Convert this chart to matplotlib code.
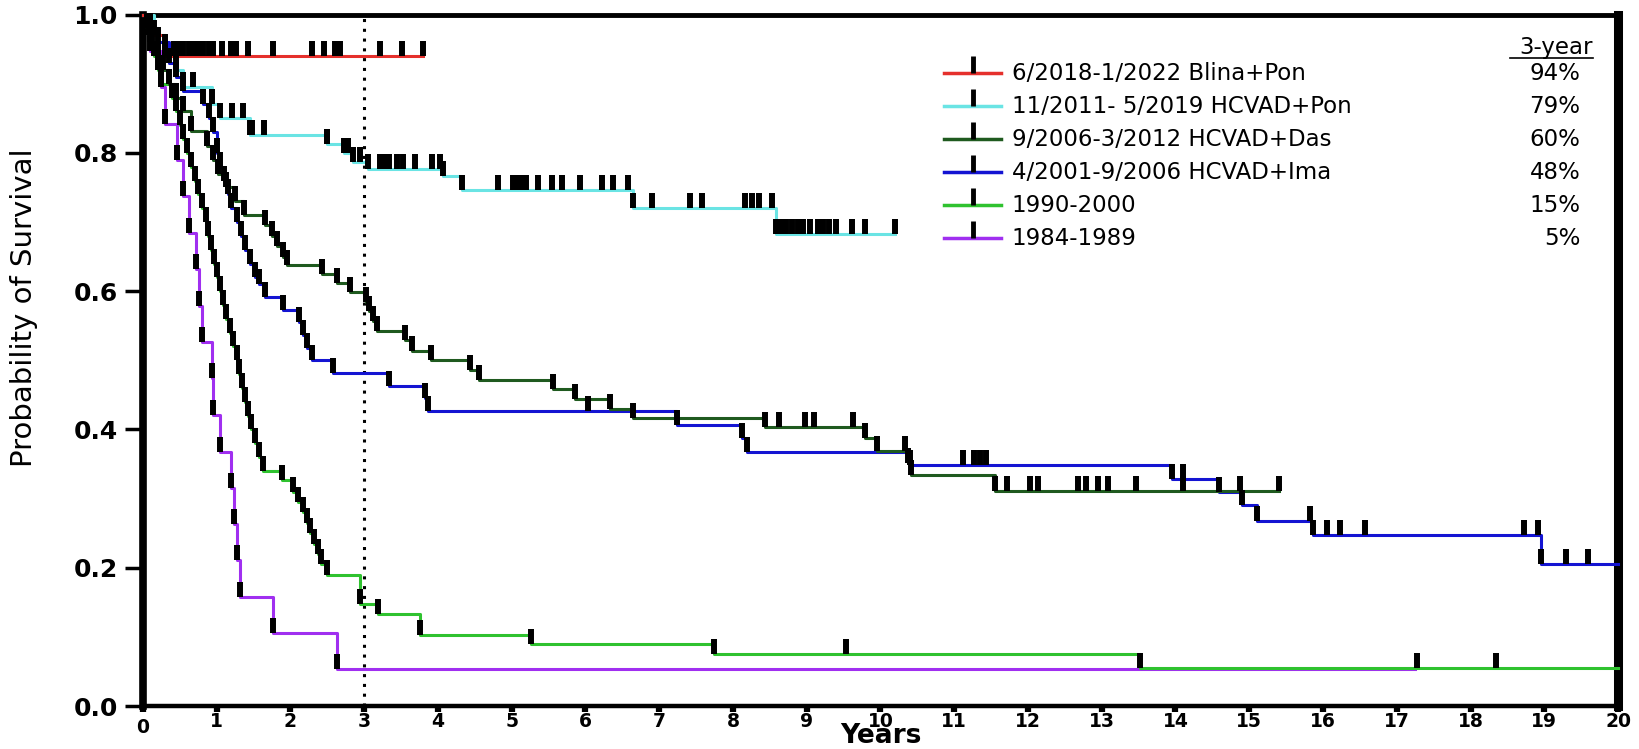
import numpy as np
import matplotlib.pyplot as plt
from matplotlib.transforms import ScaledTranslation

plt.rcParams['font.family'] = ['DejaVu Sans']

# ---- Kaplan-Meier data (event times / survival after each event, censored times) ----
red_t = [0.08, 0.30]
red_s = [0.97, 0.94]
red_c = [0.42, 0.48, 0.55, 0.62, 0.68, 0.75, 0.82, 0.89, 0.95, 1.07, 1.20, 1.26, 1.43,
         1.77, 2.29, 2.45, 2.60, 2.67, 3.22, 3.51, 3.80]
red_end = 3.80

cyan_t = [0.15, 0.30, 0.45, 0.55, 0.93, 1.05, 1.45, 2.50, 2.72, 2.85, 3.05, 4.07, 4.32, 6.65, 8.59]
cyan_s = [0.97, 0.95, 0.92, 0.895, 0.87, 0.85, 0.826, 0.813, 0.80, 0.787, 0.777, 0.766, 0.746, 0.72, 0.682]
cyan_c = [0.68, 1.21, 1.36, 1.48, 1.64, 2.50, 2.78, 2.95, 3.22, 3.27, 3.33, 3.44, 3.53, 3.69, 3.92,
          4.03, 4.82, 5.02, 5.08, 5.14, 5.20, 5.35, 5.55, 5.68, 5.93, 6.22, 6.38, 6.58, 6.90,
          7.42, 7.58, 8.17, 8.26, 8.35, 8.53, 8.65, 8.72, 8.80, 8.88, 8.95, 9.05, 9.15, 9.22,
          9.30, 9.40, 9.61, 9.79, 10.20]
cyan_end = 10.20

das_t = [0.05, 0.12, 0.20, 0.27, 0.35, 0.45, 0.55, 0.65, 0.87, 0.95, 1.02, 1.12, 1.25, 1.37,
         1.66, 1.75, 1.82, 1.90, 1.95, 2.43, 2.63, 2.81, 3.02, 3.07, 3.12, 3.17, 3.56, 3.65,
         3.90, 4.44, 4.55, 5.56, 5.86, 6.33, 6.65, 8.44, 9.79, 9.95, 10.38, 10.42, 11.55]
das_s = [0.98, 0.96, 0.94, 0.92, 0.90, 0.88, 0.86, 0.832, 0.81, 0.79, 0.77, 0.75, 0.73, 0.71,
         0.695, 0.68, 0.665, 0.65, 0.638, 0.625, 0.612, 0.599, 0.585, 0.571, 0.557, 0.543, 0.530,
         0.514, 0.50, 0.486, 0.472, 0.458, 0.444, 0.43, 0.416, 0.403, 0.388, 0.369, 0.351, 0.334, 0.311]
das_c = [8.63, 8.98, 9.10, 9.63, 10.33, 11.71, 12.03, 12.14, 12.68, 12.79, 12.95, 13.09,
         13.47, 14.10, 14.87, 15.40]
das_end = 15.40

ima_t = [0.10, 0.20, 0.35, 0.45, 0.55, 0.82, 0.90, 0.95, 1.00, 1.05, 1.10, 1.15, 1.20, 1.27,
         1.33, 1.38, 1.45, 1.52, 1.57, 1.65, 1.90, 2.12, 2.17, 2.22, 2.29, 2.58, 3.33, 3.83,
         3.87, 7.24, 8.12, 8.19, 10.40, 13.95, 14.59, 14.90, 15.10, 15.87, 18.96]
ima_s = [0.98, 0.96, 0.93, 0.91, 0.89, 0.87, 0.85, 0.83, 0.80, 0.78, 0.76, 0.74, 0.72, 0.70,
         0.68, 0.66, 0.64, 0.62, 0.61, 0.592, 0.573, 0.555, 0.536, 0.518, 0.50, 0.481, 0.463,
         0.445, 0.427, 0.407, 0.388, 0.368, 0.349, 0.329, 0.309, 0.291, 0.268, 0.247, 0.205]
ima_c = [6.04, 11.12, 11.27, 11.35, 11.43, 14.10, 15.82, 16.06, 16.23, 16.57, 18.72, 18.91,
         19.30, 19.59]
ima_end = 20.0

g90_t = [0.05, 0.10, 0.15, 0.20, 0.25, 0.40, 0.45, 0.50, 0.55, 0.60, 0.65, 0.70, 0.75, 0.80,
         0.85, 0.88, 0.92, 0.96, 1.00, 1.04, 1.08, 1.12, 1.18, 1.22, 1.27, 1.30, 1.35, 1.38,
         1.42, 1.47, 1.52, 1.57, 1.63, 1.89, 2.04, 2.10, 2.17, 2.22, 2.27, 2.32, 2.37, 2.42,
         2.50, 2.95, 3.19, 3.76, 5.26, 7.74, 13.52]
g90_s = [0.98, 0.96, 0.94, 0.92, 0.90, 0.88, 0.86, 0.84, 0.82, 0.80, 0.78, 0.76, 0.74, 0.72,
         0.70, 0.68, 0.66, 0.64, 0.62, 0.60, 0.58, 0.56, 0.54, 0.52, 0.50, 0.48, 0.46, 0.44,
         0.42, 0.40, 0.38, 0.36, 0.34, 0.327, 0.31, 0.295, 0.28, 0.265, 0.25, 0.235, 0.22, 0.205,
         0.19, 0.147, 0.133, 0.103, 0.089, 0.075, 0.055]
g90_c = [9.53, 17.27, 18.35]
g90_end = 20.0

p84_t = [0.10, 0.25, 0.30, 0.46, 0.55, 0.62, 0.72, 0.76, 0.80, 0.94, 0.95, 1.05, 1.19, 1.23,
         1.27, 1.32, 1.77, 2.63]
p84_s = [0.947, 0.895, 0.842, 0.789, 0.737, 0.684, 0.632, 0.579, 0.526, 0.474, 0.421, 0.368,
         0.316, 0.263, 0.211, 0.158, 0.105, 0.053]
p84_c = []
p84_end = 17.25

labels = ["6/2018-1/2022 Blina+Pon", "11/2011- 5/2019 HCVAD+Pon", "9/2006-3/2012 HCVAD+Das",
          "4/2001-9/2006 HCVAD+Ima", "1990-2000", "1984-1989"]
three_year = ["94%", "79%", "60%", "48%", "15%", "5%"]
colors = ["#e5302c", "#6ae4e4", "#1f5a1f", "#1414d2", "#2fc22f", "#a02ff0"]

curves = [(red_t, red_s, red_c, red_end),
          (cyan_t, cyan_s, cyan_c, cyan_end),
          (das_t, das_s, das_c, das_end),
          (ima_t, ima_s, ima_c, ima_end),
          (g90_t, g90_s, g90_c, g90_end),
          (p84_t, p84_s, p84_c, p84_end)]

fig = plt.figure(figsize=(16.39, 7.49), dpi=100)
ax = fig.add_axes([0.0872, 0.0574, 0.9, 0.9231])

# draw oldest first so the newer curves sit on top
for (t, s, c, end), col in reversed(list(zip(curves, colors))):
    t = np.array(t)
    s = np.array(s)
    x = np.concatenate([[0], t, [end]])
    y = np.concatenate([[1.0], s, [s[-1]]])
    ax.step(x, y, where="post", color=col, lw=2.2, zorder=3, clip_on=False)
    # tick marks at every event and censored time
    c = np.array(c)
    idx = np.searchsorted(t, c, side="right")
    c_s = np.where(idx == 0, 1.0, s[np.maximum(idx - 1, 0)])
    mx = np.concatenate([t, c])
    my = np.concatenate([s, c_s])
    ax.plot(mx, my, ls="none", marker=2, ms=11, mew=4.3, color="black",
            zorder=4, clip_on=False)

# 3-year reference line
ax.axvline(3, color="black", lw=2.2, ls=(0, (1, 2.2)), zorder=2)

ax.set_xlim(0, 20)
ax.set_ylim(0, 1.0)
ax.set_xticks(np.arange(0, 21, 1))
ax.set_yticks(np.arange(0, 1.01, 0.2))
ax.set_yticklabels(["%.1f" % v for v in np.arange(0, 1.01, 0.2)])

for side, w in [("left", 5.5), ("right", 6.5), ("top", 3.5), ("bottom", 3.2)]:
    ax.spines[side].set_linewidth(w)
ax.tick_params(axis="x", length=4, width=4.5, pad=0.5, labelsize=13.5, direction="out")
ax.tick_params(axis="y", length=13, width=2.5, pad=5, labelsize=18, direction="out")
for lab in ax.get_xticklabels() + ax.get_yticklabels():
    lab.set_fontweight("bold")
# the "0" under the origin sits a little lower
zero = ax.get_xticklabels()[0]
zero.set_transform(zero.get_transform() + ScaledTranslation(0, -4 / 72, fig.dpi_scale_trans))

ax.set_xlabel("Years", fontsize=19, fontweight="bold", va="baseline")
ax.xaxis.set_label_coords(0.5, -0.0528)
ax.set_ylabel("Probability of Survival", fontsize=21)
ax.yaxis.set_label_coords(-0.071, 0.5756)

# legend with 3-year column
ax.text(0.983, 0.953, "3-year", ha="right", va="center", fontsize=16.5, transform=ax.transAxes)
ax.plot([0.9265, 0.983], [0.937, 0.937], color="black", lw=1.2, transform=ax.transAxes)
for i, (lab, pct, col) in enumerate(zip(labels, three_year, colors)):
    yy = 0.9152 - i * 0.0477
    ax.plot([0.543, 0.582], [yy, yy], color=col, lw=2.5, transform=ax.transAxes)
    ax.plot([0.5625], [yy], marker=2, ms=12, mew=3.5, color="black", transform=ax.transAxes)
    ax.text(0.589, yy, lab, ha="left", va="center", fontsize=16.5, transform=ax.transAxes)
    ax.text(0.9746, yy, pct, ha="right", va="center", fontsize=16.5, transform=ax.transAxes)

plt.savefig("out.png", dpi=100)
